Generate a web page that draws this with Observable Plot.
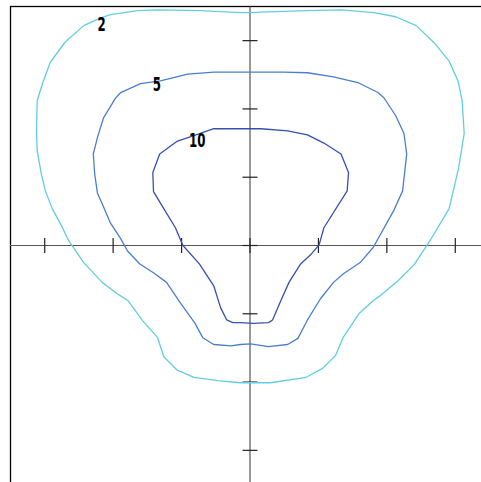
<!DOCTYPE html>
<html>
<head>
<meta charset="utf-8">
<script src="https://cdn.jsdelivr.net/npm/d3@7"></script>
<script src="https://cdn.jsdelivr.net/npm/@observablehq/plot@0.6"></script>
<style>
  html, body { margin: 0; padding: 0; background: #fff; overflow: hidden; }
  #chart svg { max-width: none !important; display: block; }
</style>
</head>
<body>
<div id="chart"></div>
<script>
// Contour levels and their traced outlines (data units)
const levels = [2, 5, 10];
const levelColors = ["#62cde0", "#4a7ecd", "#3551ad"];

const contour2 = [
  [0.00,3.41],[-0.14,3.41],[-0.72,3.44],[-1.35,3.45],[-1.64,3.44],[-2.04,3.38],[-2.19,3.33],
  [-2.43,3.22],[-2.70,2.98],[-2.92,2.68],[-3.03,2.38],[-3.11,2.12],[-3.12,1.68],[-3.11,1.39],
  [-3.05,1.05],[-2.99,0.80],[-2.89,0.54],[-2.77,0.32],[-2.65,0.07],[-2.43,-0.25],[-2.16,-0.54],
  [-1.92,-0.72],[-1.78,-0.81],[-1.57,-1.10],[-1.35,-1.35],[-1.26,-1.63],[-1.07,-1.82],
  [-0.82,-1.93],[-0.47,-1.98],[-0.14,-2.01],[0.30,-2.01],[0.82,-1.93],[1.06,-1.80],
  [1.25,-1.61],[1.36,-1.35],[1.59,-1.00],[1.80,-0.81],[1.91,-0.73],[2.16,-0.52],[2.40,-0.28],
  [2.63,0.07],[2.91,0.54],[3.05,1.14],[3.13,1.64],[3.10,2.12],[3.04,2.41],[2.91,2.70],
  [2.69,2.97],[2.43,3.22],[2.13,3.35],[1.81,3.41],[1.33,3.45],[0.84,3.44],[0.26,3.42],[0.00,3.41]
];

const contour5 = [
  [-0.14,2.54],[-0.53,2.54],[-0.91,2.51],[-1.31,2.41],[-1.60,2.37],[-1.89,2.24],[-1.97,2.15],
  [-2.14,1.87],[-2.23,1.58],[-2.29,1.34],[-2.27,1.05],[-2.23,0.77],[-2.16,0.61],[-2.04,0.33],
  [-1.89,0.10],[-1.79,-0.08],[-1.61,-0.27],[-1.41,-0.40],[-1.22,-0.54],[-1.01,-0.85],
  [-0.81,-1.13],[-0.69,-1.35],[-0.53,-1.45],[-0.28,-1.47],[-0.14,-1.45],[0.01,-1.44],
  [0.27,-1.48],[0.55,-1.45],[0.70,-1.36],[0.84,-1.09],[1.03,-0.78],[1.22,-0.54],[1.37,-0.41],
  [1.61,-0.25],[1.80,-0.03],[2.10,0.51],[2.23,0.80],[2.29,1.34],[2.25,1.64],[2.13,1.90],
  [1.96,2.16],[1.87,2.24],[1.59,2.38],[1.22,2.47],[0.84,2.53],[0.49,2.54],[0.16,2.54],[-0.14,2.54]
];

const contour10 = [
  [-0.14,1.71],[-0.53,1.71],[-0.82,1.61],[-1.06,1.53],[-1.32,1.34],[-1.42,1.07],[-1.41,0.79],
  [-1.26,0.54],[-1.09,0.26],[-1.01,0.07],[-0.98,0.00],[-0.74,-0.27],[-0.53,-0.59],[-0.43,-0.91],
  [-0.34,-1.09],[-0.25,-1.13],[-0.14,-1.13],[0.05,-1.14],[0.27,-1.13],[0.33,-1.09],[0.45,-0.81],
  [0.57,-0.54],[0.74,-0.27],[0.90,-0.12],[1.01,0.01],[1.08,0.26],[1.42,0.80],[1.44,1.07],
  [1.33,1.34],[1.08,1.50],[0.84,1.62],[0.55,1.68],[0.16,1.71],[-0.14,1.71]
];

// Label anchor points for each level
const labelX = [-2.17, -1.36, -0.77];
const labelY = [3.23, 2.35, 1.53];

const axisTicks = [-3, -2, -1, 0, 1, 2, 3];

const contourData = [contour2, contour5, contour10].flatMap((pts, i) =>
  pts.map(([x, y], j) => ({x, y, level: levels[i], order: j}))
);
const labelData = levels.map((lv, i) => ({x: labelX[i], y: labelY[i], text: String(lv)}));

const tickSymbolV = {draw(ctx, size) { ctx.moveTo(0, -7.5); ctx.lineTo(0, 7.5); }};
const tickSymbolH = {draw(ctx, size) { ctx.moveTo(-7.5, 0); ctx.lineTo(7.5, 0); }};

const chart = Plot.plot({
  width: 500,
  height: 490,
  marginLeft: 10,
  marginRight: 11,
  marginTop: 6,
  marginBottom: 6,
  x: {domain: [-3.5, 3.5], axis: null},
  y: {domain: [-3.5, 3.5], axis: null},
  color: {domain: levels, range: levelColors},
  style: {background: "#fff", overflow: "visible", maxWidth: "none"},
  marks: [
    Plot.frame({stroke: "#000", strokeWidth: 1.3}),
    Plot.ruleX([0], {stroke: "#333", strokeWidth: 1}),
    Plot.ruleY([0], {stroke: "#555", strokeWidth: 1}),
    Plot.dot(axisTicks, {x: d => d, y: 0, symbol: tickSymbolV, r: 7.5, stroke: "#222", strokeWidth: 1.2, fill: "none"}),
    Plot.dot(axisTicks, {x: 0, y: d => d, symbol: tickSymbolH, r: 7.5, stroke: "#222", strokeWidth: 1.2, fill: "none"}),
    Plot.line(contourData, {x: "x", y: "y", z: "level", stroke: "level", strokeWidth: 1.3, curve: "linear"}),
    Plot.text(labelData, {
      x: "x", y: "y", text: "text", className: "lbl",
      fontFamily: "'DejaVu Sans', sans-serif",
      fontWeight: "bold", fontSize: 19, fill: "#000"
    })
  ]
});
// Condense the label glyphs horizontally
d3.select(chart).selectAll(".lbl text").each(function() {
  const t = this.getAttribute("transform") || "";
  this.setAttribute("transform", t + " scale(0.62,1)");
});
document.getElementById("chart").appendChild(chart);
</script>
</body>
</html>
